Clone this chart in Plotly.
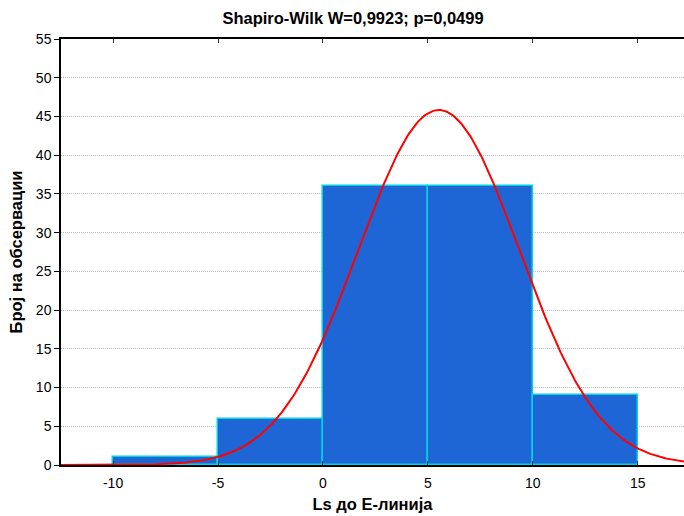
import numpy as np
import plotly.graph_objects as go

# Histogram bins (left edges) and observation counts
bin_left = [-10, -5, 0, 5, 10]
bin_width = 5
counts = [1, 6, 36, 36, 9]

# Fitted normal curve parameters
fit_mean = 5.52
fit_sd = 3.83
n_obs = sum(counts)

x_ticks = [-10, -5, 0, 5, 10, 15]
y_ticks = list(range(0, 56, 5))

title_text = "Shapiro-Wilk W=0,9923; p=0,0499"
x_title = "Ls до Е-линија"
y_title = "Број на обсервации"

x_range = [-12.48, 17.2]

centers = [b + bin_width / 2 for b in bin_left]
xs = np.linspace(x_range[0], x_range[1], 400)
ys = n_obs * bin_width / (fit_sd * np.sqrt(2 * np.pi)) * np.exp(-0.5 * ((xs - fit_mean) / fit_sd) ** 2)

fig = go.Figure()
fig.add_trace(go.Bar(
    x=centers, y=counts, width=[bin_width] * len(counts),
    marker=dict(color="#1E66D6", line=dict(color="#00D4E4", width=1.5)),
    hoverinfo="skip",
))
fig.add_trace(go.Scatter(
    x=xs, y=ys, mode="lines",
    line=dict(color="#FF0000", width=2),
    hoverinfo="skip",
))

font_family = "Liberation Sans, Arial, sans-serif"

fig.update_layout(
    width=684, height=516,
    margin=dict(l=61, r=0, t=39, b=51),
    paper_bgcolor="white", plot_bgcolor="white",
    showlegend=False,
    bargap=0,
    font=dict(family=font_family, size=14, color="black"),
    title=dict(text="<b>" + title_text + "</b>", x=(353 - 61) / 623, xref="paper",
               xanchor="center", y=1 - 18 / 516, yanchor="middle",
               font=dict(size=16.5, color="black")),
    xaxis=dict(
        range=x_range, tickvals=x_ticks, ticktext=[str(t) for t in x_ticks],
        showgrid=False, zeroline=False,
        showline=True, linecolor="black", linewidth=2,
        mirror="ticks", ticks="inside", ticklen=4, tickcolor="#333333",
        tickfont=dict(size=14), ticklabelstandoff=4,
        title=dict(text="<b>" + x_title + "</b>", font=dict(size=16.5), standoff=9),
    ),
    yaxis=dict(
        range=[0, 55], tickvals=y_ticks,
        showgrid=True, gridcolor="#BDBDBD", gridwidth=1, griddash="1px,1px",
        zeroline=False,
        showline=True, linecolor="black", linewidth=1.5,
        ticks="outside", ticklen=5, tickcolor="black",
        tickfont=dict(size=14),
        title=dict(text="<b>" + y_title + "</b>", font=dict(size=16.5), standoff=9),
    ),
)

fig.write_html("out.html")
